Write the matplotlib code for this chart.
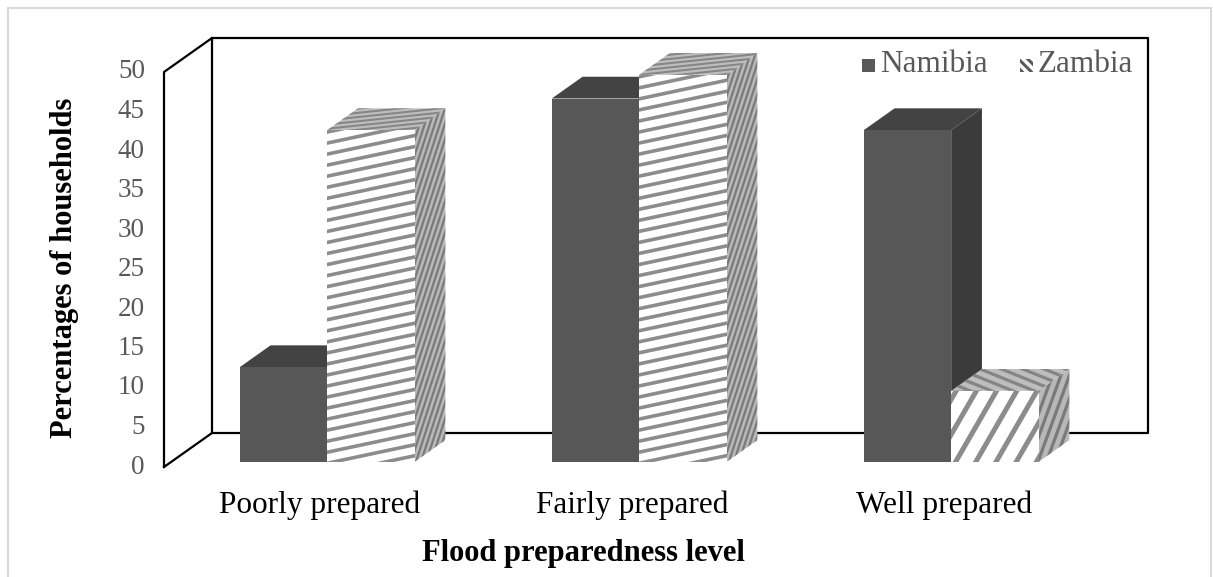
import numpy as np
import matplotlib
matplotlib.use("Agg")
import matplotlib.pyplot as plt
from matplotlib.patches import Polygon, Rectangle
from matplotlib.collections import LineCollection

# ---------------- data ----------------
categories = ["Poorly prepared", "Fairly prepared", "Well prepared"]
series_names = ["Namibia", "Zambia"]
namibia = [12, 46, 42]
zambia = [42, 49, 9]
y_ticks = [0, 5, 10, 15, 20, 25, 30, 35, 40, 45, 50]
y_max = 50
x_label = "Flood preparedness level"
y_label = "Percentages of households"

# ---------------- figure / axes ----------------
W, H = 1213, 577
fig = plt.figure(figsize=(W / 100, H / 100), dpi=100)
ax = fig.add_axes([0, 0, 1, 1])
PX_X = 312.0   # pixels per category
PX_Y = 7.9     # pixels per percent
X0_PX = 320.0  # pixel x of first category centre (front plane)
Y0_PX = 467.0  # pixel y (from top) of value 0 on front plane
ax.set_xlim(-X0_PX / PX_X, (W - X0_PX) / PX_X)
ax.set_ylim((Y0_PX - H) / PX_Y, Y0_PX / PX_Y)
ax.axis("off")

serif = ["Liberation Serif", "DejaVu Serif"]
grey_txt = "#595959"

# depth of the 3-D box (data units)
DX, DY = 48 / PX_X, 34 / PX_Y
n_cat = len(categories)
xl, xr = -0.5, n_cat - 0.5

# walls
wall_kw = dict(color="black", lw=1.6, solid_capstyle="projecting", zorder=1)
ax.plot([xl, xl, xl + DX, xl + DX, xl], [0, y_max, y_max + DY, DY, 0], **wall_kw)
ax.plot([xl + DX, xr + DX, xr + DX, xl + DX], [y_max + DY, y_max + DY, DY, DY], **wall_kw)


def striped(poly, bg, fg, angle, period, width, z, phase=0.0):
    poly = np.asarray(poly)
    patch = Polygon(poly, closed=True, facecolor=bg, edgecolor="none", zorder=z)
    ax.add_patch(patch)
    if fg is None:
        return
    P = ax.transData.transform(poly)
    t = np.radians(angle)
    d = np.array([np.cos(t), np.sin(t)])
    n = np.array([-np.sin(t), np.cos(t)])
    proj = P @ n
    along = P @ d
    ks = np.arange(np.floor(proj.min() / period) * period + phase, proj.max() + period, period)
    inv = ax.transData.inverted()
    segs = []
    for k in ks:
        a = k * n + (along.min() - 5) * d
        b = k * n + (along.max() + 5) * d
        segs.append(inv.transform(np.array([a, b])))
    lc = LineCollection(segs, colors=fg, linewidths=width * 0.72, zorder=z + 0.01,
                        capstyle="butt")
    lc.set_clip_path(patch)
    ax.add_collection(lc)


def bar3d(x0, x1, h, faces, z):
    f0, f1 = 0.15, 0.79
    a0, b0 = f0 * DX, f0 * DY
    a1, b1 = f1 * DX, f1 * DY
    front = [(x0 + a0, b0), (x1 + a0, b0), (x1 + a0, h + b0), (x0 + a0, h + b0)]
    top = [(x0 + a0, h + b0), (x1 + a0, h + b0), (x1 + a1, h + b1), (x0 + a1, h + b1)]
    side = [(x1 + a0, b0), (x1 + a1, b1), (x1 + a1, h + b1), (x1 + a0, h + b0)]
    striped(side, *faces["side"], z)
    striped(top, *faces["top"], z + 0.1)
    striped(front, *faces["front"], z + 0.2)


bw = 0.28
nam_faces = dict(front=("#575757", None, 0, 1, 0), top=("#434343", None, 0, 1, 0),
                 side=("#3b3b3b", None, 0, 1, 0))
for i in range(n_cat):
    # Namibia
    bar3d(i - bw, i, namibia[i], nam_faces, 2 + i)
    # Zambia
    if zambia[i] > 20:
        zf = dict(front=("white", "#8c8c8c", 12, 10.8, 3.6),
                  top=("#bdbdbd", "#858585", 6, 4.2, 2.0),
                  side=("#b8b8b8", "#7a7a7a", 72, 4.8, 2.2))
    else:
        zf = dict(front=("white", "#8c8c8c", 60, 17.5, 5.0),
                  top=("#bdbdbd", "#858585", -22, 8.0, 3.2),
                  side=("#b8b8b8", "#7a7a7a", 70, 8.0, 3.2))
    bar3d(i, i + bw, zambia[i], zf, 2.5 + i)

# y tick labels
tx = (145 - X0_PX) / PX_X
for v in y_ticks:
    ax.text(tx, v, str(v), ha="right", va="center", fontsize=19.5, color=grey_txt,
            family=serif)

# category labels
for i, c in enumerate(categories):
    ax.text(i, (Y0_PX - 505) / PX_Y, c, ha="center", va="center", fontsize=22.5,
            color="black", family=serif)

# axis titles
ax.text((583 - X0_PX) / PX_X, (Y0_PX - 553) / PX_Y, x_label, ha="center", va="center",
        fontsize=22, fontweight="bold", family=serif, color="black")
ax.text((65 - X0_PX) / PX_X, (Y0_PX - 268) / PX_Y, y_label, ha="center", va="center",
        rotation=90, fontsize=22, fontweight="bold", family=serif, color="black")

# legend (manual, Excel style)
leg_y = (Y0_PX - 65) / PX_Y
sq_w = 13 / PX_X
sq_h = 13 / PX_Y
lx = [(862 - X0_PX) / PX_X, (1020 - X0_PX) / PX_X]
for j, name in enumerate(series_names):
    x0 = lx[j]
    sq = [(x0, leg_y - sq_h / 2), (x0 + sq_w, leg_y - sq_h / 2),
          (x0 + sq_w, leg_y + sq_h / 2), (x0, leg_y + sq_h / 2)]
    if j == 0:
        striped(sq, "#595959", None, 0, 1, 0, 10)
    else:
        striped(sq, "white", "#595959", -45, 6.5, 3.0, 10, phase=1.0)
    ax.text(x0 + sq_w + 5 / PX_X, leg_y, name, ha="left", va="center", fontsize=22.5,
            color=grey_txt, family=serif)

# outer chart border
fig.add_artist(Rectangle((8 / W, -0.05), (W - 10) / W, 1.05 - 8 / H, transform=fig.transFigure,
                         fill=False, edgecolor="#d9d9d9", lw=1.5))

fig.savefig("out.png", dpi=100)
